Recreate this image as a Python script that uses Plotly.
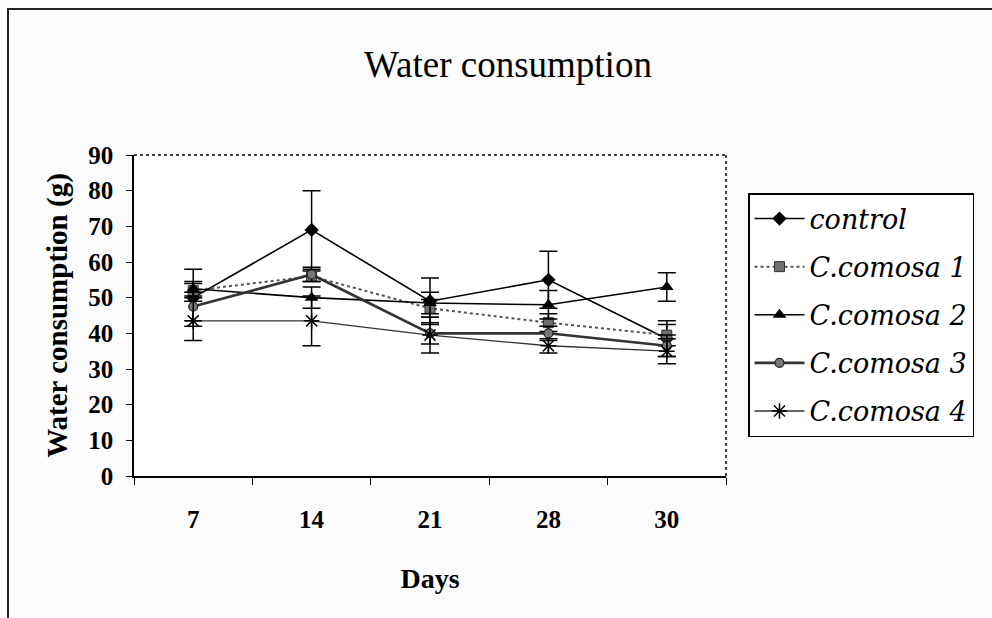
import plotly.graph_objects as go

days = ["7", "14", "21", "28", "30"]
control = [50, 69, 49, 55, 38.5]
control_err = [8, 11, 6.5, 8, 5]
comosa1 = [52, 56, 47, 43, 39.5]
comosa1_err = [2, 1.5, 2.5, 2.5, 3]
comosa2 = [52.5, 50, 48.5, 48, 53]
comosa2_err = [2, 3, 3, 4, 4]
comosa3 = [47.5, 56.5, 40, 40, 36.5]
comosa3_err = [4, 2, 3, 2, 3]
comosa4 = [43.5, 43.5, 39.5, 36.5, 35]
comosa4_err = [5.5, 7, 5, 2, 3.5]

W, H = 992, 618
L, R, T, B = 134, 726, 155, 476

series = [
    ("control", control, control_err, dict(symbol="diamond", size=11, color="black"),
     dict(color="black", width=1.6, dash="solid")),
    ("C.comosa 1", comosa1, comosa1_err, dict(symbol="square", size=10, color="#6f6f6f",
     line=dict(color="#333", width=1)), dict(color="#555", width=2, dash="dot")),
    ("C.comosa 2", comosa2, comosa2_err, dict(symbol="triangle-up", size=12, color="black"),
     dict(color="black", width=1.6, dash="solid")),
    ("C.comosa 3", comosa3, comosa3_err, dict(symbol="circle", size=9, color="#777",
     line=dict(color="#222", width=1.2)), dict(color="#333", width=2.6, dash="solid")),
    ("C.comosa 4", comosa4, comosa4_err, dict(symbol="asterisk-open", size=13, color="black",
     line=dict(color="black", width=1.5)), dict(color="#333", width=1.4, dash="solid")),
]

fig = go.Figure()
for i, (name, vals, err, mk, ln) in enumerate(series):
    fig.add_trace(go.Scatter(
        x=days, y=vals, name=name, mode="lines+markers",
        marker=mk, line=ln, legendgroup=f"g{i}",
        error_y=dict(type="data", array=err, visible=True, color="black",
                     thickness=1.5, width=9),
    ))

def px_x(p):
    return (p - L) / (R - L)

def px_y(p):
    return (B - p) / (B - T)

serif = "Liberation Serif"

fig.update_layout(
    width=W, height=H,
    margin=dict(l=L, r=W - R, t=T, b=H - B),
    paper_bgcolor="#fbfbfb", plot_bgcolor="#ffffff",
    font=dict(family=serif, color="black"),
    title=dict(text="Water consumption", x=508 / W, xanchor="center",
               y=1 - 64 / H, yanchor="middle",
               font=dict(family=serif, size=37, color="black")),
    showlegend=True,
    legend=dict(
        x=px_x(748), y=px_y(193), xanchor="left", yanchor="top",
        bgcolor="white", bordercolor="black", borderwidth=1.5,
        font=dict(family="DejaVu Serif", size=27, color="black", style="italic"),
        tracegroupgap=10, itemwidth=50,
    ),
    xaxis=dict(
        type="category", range=[-0.5, 4.5],
        showline=True, linecolor="black", linewidth=1.5, mirror=False,
        ticks="outside", ticklen=7, tickcolor="black", tickwidth=1.2,
        tickson="boundaries", showgrid=False, zeroline=False,
        tickfont=dict(family=serif, size=25, color="black", weight="bold"),
        ticklabelstandoff=20,
        title=dict(text="<b>Days</b>", font=dict(family=serif, size=28), standoff=37),
    ),
    yaxis=dict(
        range=[0, 90], dtick=10, tick0=0,
        showline=True, linecolor="black", linewidth=1.5,
        ticks="outside", ticklen=6, tickcolor="black", tickwidth=1.2,
        showgrid=False, zeroline=False,
        tickfont=dict(family=serif, size=25, color="black", weight="bold"),
        ticklabelstandoff=8,
        title=dict(text="<b>Water consumption (g)</b>", font=dict(family=serif, size=29), standoff=12),
    ),
)

# dotted plot-area border (top and right)
fig.add_shape(type="line", xref="paper", yref="paper", x0=0, x1=1, y0=1, y1=1,
              line=dict(color="#444", width=2, dash="dot"))
fig.add_shape(type="line", xref="paper", yref="paper", x0=1, x1=1, y0=0, y1=1,
              line=dict(color="#444", width=2, dash="dot"))
# outer chart frame
fig.add_shape(type="rect", xref="paper", yref="paper",
              x0=px_x(8), x1=px_x(1005), y0=px_y(630), y1=px_y(9),
              line=dict(color="#222", width=2), fillcolor="rgba(0,0,0,0)", layer="below")

fig.write_html("out.html", config={"displayModeBar": False},
               post_script="document.body.style.margin='0px';")
